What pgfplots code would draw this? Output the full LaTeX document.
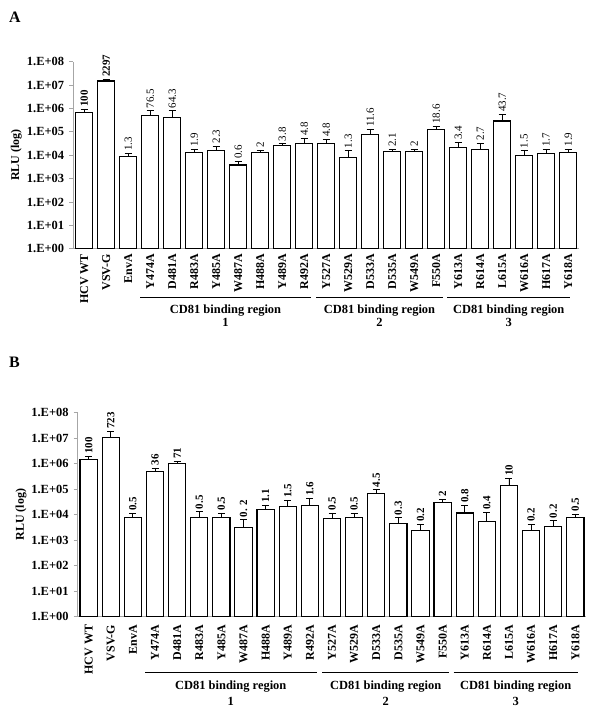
\documentclass[border=0pt]{standalone}
\usepackage{fontspec}
\setmainfont{Liberation Serif}
\usepackage{pgfplots}
\usepackage{pgfplotstable}
\pgfplotsset{compat=1.18}

\pgfplotstableread[col sep=comma]{
x,y,ey,top,lab
0,6.5e5,2.8e5,9.3e5,\textbf{100}
1,1.5e7,2.8e6,1.78e7,\textbf{2297}
2,8.5e3,3.5e3,1.2e4,1.3
3,5.0e5,2.9e5,7.9e5,76.5
4,4.2e5,3.7e5,7.9e5,64.3
5,1.3e4,5e3,1.8e4,1.9
6,1.55e4,9e3,2.45e4,2.3
7,3.8e3,1.6e3,5.4e3,0.6
8,1.3e4,3.6e3,1.66e4,2
9,2.6e4,5e3,3.1e4,3.8
10,3.1e4,2.1e4,5.2e4,4.8
11,3.1e4,1.7e4,4.8e4,4.8
12,8.3e3,7.2e3,1.55e4,1.3
13,7.9e4,4.7e4,1.26e5,11.6
14,1.4e4,4e3,1.8e4,2.1
15,1.4e4,4e3,1.8e4,2
16,1.26e5,4.8e4,1.74e5,18.6
17,2.1e4,1.5e4,3.6e4,3.4
18,1.8e4,1.5e4,3.3e4,2.7
19,2.9e5,2.6e5,5.5e5,43.7
20,9.8e3,5.7e3,1.55e4,1.5
21,1.15e4,6.3e3,1.78e4,1.7
22,1.26e4,5.6e3,1.82e4,1.9
}\dataA

\pgfplotstableread[col sep=comma]{
x,y,ey,top,lab
0,1.48e6,4.7e5,1.95e6,100
1,1.1e7,7.6e6,1.86e7,723
2,7.6e3,3.4e3,1.1e4,0.5
3,5.1e5,1.7e5,6.8e5,36
4,1.05e6,1.8e5,1.23e6,71
5,7.6e3,5.3e3,1.29e4,0.5
6,7.6e3,4.1e3,1.17e4,0.5
7,3.2e3,3.1e3,6.3e3,0. 2
8,1.62e4,7.2e3,2.34e4,1.1
9,2.14e4,1.49e4,3.63e4,1.5
10,2.34e4,1.93e4,4.27e4,1.6
11,6.9e3,4.8e3,1.17e4,0.5
12,7.6e3,3.4e3,1.1e4,0.5
13,6.6e4,2.9e4,9.5e4,4.5
14,4.5e3,3.1e3,7.6e3,0.3
15,2.45e3,1.65e3,4.1e3,0.2
16,3.1e4,8e3,3.9e4,2
17,1.17e4,1.17e4,2.34e4,0.8
18,5.4e3,6.9e3,1.23e4,0.4
19,1.41e5,1.29e5,2.7e5,10
20,2.45e3,1.75e3,4.2e3,0.2
21,3.5e3,2.25e3,5.75e3,0.2
22,7.6e3,3.1e3,1.07e4,0.5
}\dataB

\newcommand{\fs}[1]{\fontsize{#1}{#1}\selectfont}

\begin{document}
\begin{tikzpicture}
\path[use as bounding box] (0,0) rectangle (600bp,-715bp);

\node[anchor=base west, font=\fs{16}\bfseries, inner sep=0pt] at (9bp,-22.7bp) {A};
\node[anchor=base west, font=\fs{16}\bfseries, inner sep=0pt] at (9bp,-367bp) {B};

% ---------- Panel A ----------
\begin{axis}[at={(73.2bp,-248.7bp)}, anchor=south west,
    scale only axis, width=506bp, height=187bp,
    ymode=log,
    ymin=1, ymax=1e8, xmin=-0.5, xmax=22.5,
    axis x line*=bottom, axis y line*=left,
    axis line style={draw=gray!70, line width=0.8bp},
    ytick={1,10,100,1000,1e4,1e5,1e6,1e7,1e8},
    yticklabels={1.E+00,1.E+01,1.E+02,1.E+03,1.E+04,1.E+05,1.E+06,1.E+07,1.E+08},
    yminorticks=false,
    tick align=outside,
    major tick length=4bp,
    y tick style={draw=gray!70, line width=0.8bp},
    xtick={0,...,22},
    xticklabels={HCV WT,VSV-G,EnvA,Y474A,D481A,R483A,Y485A,W487A,H488A,Y489A,R492A,Y527A,W529A,D533A,D535A,W549A,F550A,Y613A,R614A,L615A,W616A,H617A,Y618A},
    x tick style={draw=none},
    xticklabel style={rotate=90, anchor=east, font=\fs{12}\bfseries, inner sep=1.2bp},
    yticklabel style={font=\fs{12.5}\bfseries, xshift=-1.5bp},
    ylabel={RLU (log)},
    ylabel style={font=\fs{12}\bfseries, at={(axis description cs:-0.1127,0.5)}, anchor=center},
    clip=false]
\addplot[ybar, bar width=0.78, bar shift=0pt, fill=white, draw=black, line width=1.1bp,
    error bars/y dir=plus, error bars/y explicit,
    error bars/error bar style={line width=0.9bp, black},
    error bars/error mark options={rotate=90, mark size=3.5bp, line width=0.9bp, black}]
  table[x=x, y=y, y error=ey] {\dataA};
\addplot[draw=none, mark=none, nodes near coords, point meta=explicit symbolic,
  nodes near coords style={rotate=90, anchor=west, font=\fs{11}, inner sep=2.5bp}]
  table[x=x, y=top, meta=lab] {\dataA};
\draw[line width=1.1bp] ([yshift=-49bp]axis cs:2.55,1) -- ([yshift=-49bp]axis cs:10.3,1);
\draw[line width=1.1bp] ([yshift=-49bp]axis cs:10.55,1) -- ([yshift=-49bp]axis cs:16.3,1);
\draw[line width=1.1bp] ([yshift=-49bp]axis cs:16.5,1) -- ([yshift=-49bp]axis cs:22.1,1);
\node[anchor=base, font=\fs{12.5}\bfseries] at ([yshift=-64.6bp]axis cs:6.425,1) {CD81 binding region};
\node[anchor=base, font=\fs{12.5}\bfseries] at ([yshift=-77.5bp]axis cs:6.425,1) {1};
\node[anchor=base, font=\fs{12.5}\bfseries] at ([yshift=-64.6bp]axis cs:13.425,1) {CD81 binding region};
\node[anchor=base, font=\fs{12.5}\bfseries] at ([yshift=-77.5bp]axis cs:13.425,1) {2};
\node[anchor=base, font=\fs{12.5}\bfseries] at ([yshift=-64.6bp]axis cs:19.3,1) {CD81 binding region};
\node[anchor=base, font=\fs{12.5}\bfseries] at ([yshift=-77.5bp]axis cs:19.3,1) {3};
\end{axis}

% ---------- Panel B ----------
\begin{axis}[at={(77.6bp,-616.7bp)}, anchor=south west,
    scale only axis, width=508.8bp, height=204bp,
    ymode=log,
    ymin=1, ymax=1e8, xmin=-0.5, xmax=22.5,
    axis x line*=bottom, axis y line*=left,
    axis line style={draw=gray!70, line width=0.8bp},
    ytick={1,10,100,1000,1e4,1e5,1e6,1e7,1e8},
    yticklabels={1.E+00,1.E+01,1.E+02,1.E+03,1.E+04,1.E+05,1.E+06,1.E+07,1.E+08},
    yminorticks=false,
    tick align=outside,
    major tick length=4bp,
    y tick style={draw=gray!70, line width=0.8bp},
    xtick={0,...,22},
    xticklabels={HCV WT,VSV-G,EnvA,Y474A,D481A,R483A,Y485A,W487A,H488A,Y489A,R492A,Y527A,W529A,D533A,D535A,W549A,F550A,Y613A,R614A,L615A,W616A,H617A,Y618A},
    x tick style={draw=none},
    xticklabel style={rotate=90, anchor=east, font=\fs{12}\bfseries, inner sep=4bp},
    yticklabel style={font=\fs{12.5}\bfseries, xshift=-1.5bp},
    ylabel={RLU (log)},
    ylabel style={font=\fs{12}\bfseries, at={(axis description cs:-0.111,0.5)}, anchor=center},
    clip=false]
\addplot[ybar, bar width=0.78, bar shift=0pt, fill=white, draw=black, line width=1.1bp,
    error bars/y dir=plus, error bars/y explicit,
    error bars/error bar style={line width=0.9bp, black},
    error bars/error mark options={rotate=90, mark size=3.5bp, line width=0.9bp, black}]
  table[x=x, y=y, y error=ey] {\dataB};
\addplot[draw=none, mark=none, nodes near coords, point meta=explicit symbolic,
  nodes near coords style={rotate=90, anchor=west, font=\fs{11}\bfseries, inner sep=2.5bp}]
  table[x=x, y=top, meta=lab] {\dataB};
\draw[line width=1.1bp] ([yshift=-55.6bp]axis cs:2.55,1) -- ([yshift=-55.6bp]axis cs:10.3,1);
\draw[line width=1.1bp] ([yshift=-55.6bp]axis cs:10.55,1) -- ([yshift=-55.6bp]axis cs:16.3,1);
\draw[line width=1.1bp] ([yshift=-55.6bp]axis cs:16.5,1) -- ([yshift=-55.6bp]axis cs:22.1,1);
\node[anchor=base, font=\fs{12.5}\bfseries] at ([yshift=-72.6bp]axis cs:6.425,1) {CD81 binding region};
\node[anchor=base, font=\fs{12.5}\bfseries] at ([yshift=-88.3bp]axis cs:6.425,1) {1};
\node[anchor=base, font=\fs{12.5}\bfseries] at ([yshift=-72.6bp]axis cs:13.425,1) {CD81 binding region};
\node[anchor=base, font=\fs{12.5}\bfseries] at ([yshift=-88.3bp]axis cs:13.425,1) {2};
\node[anchor=base, font=\fs{12.5}\bfseries] at ([yshift=-72.6bp]axis cs:19.3,1) {CD81 binding region};
\node[anchor=base, font=\fs{12.5}\bfseries] at ([yshift=-88.3bp]axis cs:19.3,1) {3};
\end{axis}
\end{tikzpicture}
\end{document}
